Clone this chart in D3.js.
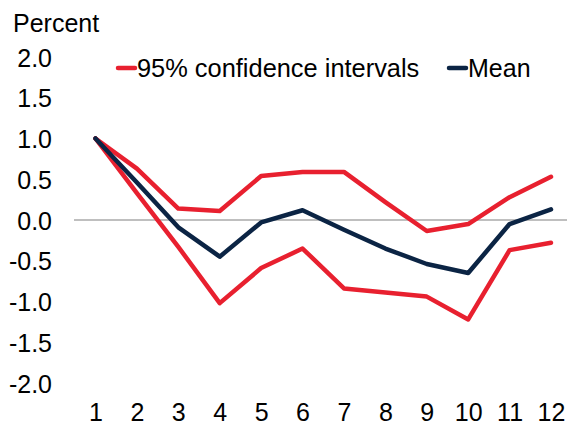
<!DOCTYPE html>
<html>
<head>
<meta charset="utf-8">
<script src="https://cdn.jsdelivr.net/npm/d3@7"></script>
<style>
  html, body { margin: 0; padding: 0; background: #fff; }
  svg { display: block; }
  text { font-family: "Liberation Sans", Arial, sans-serif; fill: #000; }
</style>
</head>
<body>
<svg id="chart" width="567" height="426"></svg>
<script>
const periods = [1, 2, 3, 4, 5, 6, 7, 8, 9, 10, 11, 12];
const upperCI = [1.0, 0.63, 0.14, 0.11, 0.54, 0.59, 0.59, 0.22, -0.135, -0.05, 0.28, 0.53];
const meanVals = [1.0, 0.46, -0.09, -0.45, -0.03, 0.12, -0.12, -0.35, -0.54, -0.65, -0.05, 0.13];
const lowerCI = [1.0, 0.33, -0.33, -1.02, -0.59, -0.35, -0.84, -0.89, -0.94, -1.22, -0.37, -0.28];
const yTicks = [2.0, 1.5, 1.0, 0.5, 0.0, -0.5, -1.0, -1.5, -2.0];
const xTickLabels = ["1", "2", "3", "4", "5", "6", "7", "8", "9", "10", "11", "12"];
const yTitle = "Percent";
const legendLabels = ["95% confidence intervals", "Mean"];

const RED = "#E8202F";
const NAVY = "#0B2444";
const FONT = 25;

const svg = d3.select("#chart");

const x = d3.scaleLinear().domain([1, 12]).range([95.5, 551]);
const y = d3.scaleLinear().domain([-2, 2]).range([383, 57]);

const fmt = v => d3.format(".1f")(v).replace("\u2212", "-");

// Y axis labels
const yAxis = d3.axisLeft(y).tickValues(yTicks).tickSize(0).tickPadding(0).tickFormat(fmt);
const gy = svg.append("g").attr("transform", "translate(52,0)").call(yAxis);
gy.select(".domain").remove();
gy.selectAll("text")
  .attr("font-size", FONT)
  .attr("font-family", "Liberation Sans, Arial, sans-serif")
  .attr("fill", "#000")
  .attr("dy", "0.36em");

// X axis labels
const xAxis = d3.axisBottom(x).tickValues(periods).tickSize(0).tickPadding(0)
  .tickFormat((d, i) => xTickLabels[i]);
const gx = svg.append("g").attr("transform", "translate(0,403)").call(xAxis);
gx.select(".domain").remove();
gx.selectAll("text")
  .attr("font-size", FONT)
  .attr("font-family", "Liberation Sans, Arial, sans-serif")
  .attr("fill", "#000")
  .attr("y", 0)
  .attr("dy", "0.72em");

// Title
svg.append("text")
  .attr("x", 13).attr("y", 32)
  .attr("font-size", FONT)
  .text(yTitle);

// Zero line
svg.append("line")
  .attr("x1", 74).attr("x2", 567)
  .attr("y1", y(0)).attr("y2", y(0))
  .attr("stroke", "#808080").attr("stroke-width", 1.2);

const line = d3.line().x((d, i) => x(periods[i])).y(d => y(d));

const series = [
  { vals: upperCI, color: RED },
  { vals: lowerCI, color: RED },
  { vals: meanVals, color: NAVY }
];
series.forEach(s => {
  svg.append("path")
    .datum(s.vals)
    .attr("d", line)
    .attr("fill", "none")
    .attr("stroke", s.color)
    .attr("stroke-width", 4.5)
    .attr("stroke-linejoin", "round")
    .attr("stroke-linecap", "round");
});

// Legend
const legendItems = [
  { label: legendLabels[0], color: RED, x: 118, size: 25.4 },
  { label: legendLabels[1], color: NAVY, x: 449, size: 25 }
];
legendItems.forEach(it => {
  svg.append("line")
    .attr("x1", it.x).attr("x2", it.x + 17)
    .attr("y1", 68).attr("y2", 68)
    .attr("stroke", it.color).attr("stroke-width", 4.5)
    .attr("stroke-linecap", "round");
  svg.append("text")
    .attr("x", it.x + 19).attr("y", 77)
    .attr("font-size", it.size)
    .text(it.label);
});
</script>
</body>
</html>
